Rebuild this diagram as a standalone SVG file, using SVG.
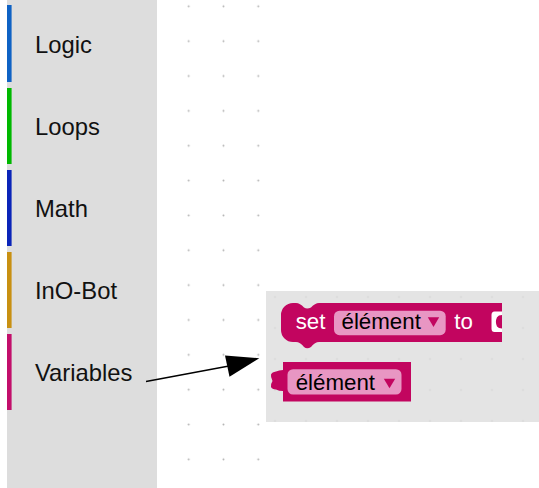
<svg xmlns="http://www.w3.org/2000/svg" width="539" height="488" viewBox="0 0 539 488">
  <style>
    .cat { font-family: "Liberation Sans", Arial, sans-serif; font-size: 23.8px; fill: #111; }
    .blk { font-family: "Liberation Sans", Arial, sans-serif; font-size: 22.3px; }
    .lbl { fill: #ffffff; }
    .fld { fill: #000000; }
    .body { fill: #c2055f; }
    .pill { fill: #e896c3; }
    .arrowhead { fill: #c2055f; }
  </style>
  <defs>
    <pattern id="wsDots" patternUnits="userSpaceOnUse" x="171.3" y="-11.1" width="34.8" height="34.85">
      <circle cx="17.4" cy="17.4" r="1" fill="#b4b4b4"/>
    </pattern>
    <pattern id="flyDots" patternUnits="userSpaceOnUse" x="259.5" y="281.5" width="31" height="31">
      <circle cx="15.5" cy="15.5" r="0.8" fill="#cfcfcf"/>
    </pattern>
  </defs>

  <!-- canvas -->
  <rect x="0" y="0" width="539" height="488" fill="#ffffff"/>

  <!-- workspace grid dots -->
  <rect x="171.3" y="-11.1" width="104.4" height="490" fill="url(#wsDots)"/>

  <!-- toolbox panel -->
  <g id="toolbox">
    <rect x="7" y="0" width="150" height="488" fill="#dddddd"/>
    <g id="cat-logic">
      <rect x="7" y="5" width="4.6" height="77" fill="#0f62c4"/>
      <text class="cat" x="35" y="53.3">Logic</text>
    </g>
    <g id="cat-loops">
      <rect x="7" y="88" width="4.6" height="76" fill="#00b800"/>
      <text class="cat" x="35" y="135.3">Loops</text>
    </g>
    <g id="cat-math">
      <rect x="7" y="170" width="4.6" height="76" fill="#0a24b8"/>
      <text class="cat" x="35" y="217.3">Math</text>
    </g>
    <g id="cat-inobot">
      <rect x="7" y="252" width="4.6" height="76" fill="#c89012"/>
      <text class="cat" x="35" y="299.3">InO-Bot</text>
    </g>
    <g id="cat-variables">
      <rect x="7" y="334" width="4.6" height="76" fill="#c20f6b"/>
      <text class="cat" x="35" y="381.3">Variables</text>
    </g>
  </g>

  <!-- flyout with variable blocks -->
  <g id="flyout">
    <rect x="266" y="291" width="273" height="131" fill="#e4e4e4"/>
    <rect x="266" y="291" width="273" height="131" fill="url(#flyDots)"/>
  </g>

  <!-- "set ... to" block -->
  <g id="block-set">
    <path class="body" d="M281,315 A12,12 0 0 1 293,303 H296 Q300,303 304,307.5 Q307,309.5 311,307.5 Q315,303 319,303 H502 V342 H319 Q315,342 311,347 Q307,349.5 304,347 Q300,342 296,342 H293 A12,12 0 0 1 281,330 Z"/>
    <!-- value input socket on the right edge -->
    <path fill="#ffffff" d="M502,311.5 H494.5 Q491.5,311.5 491.5,315 V328.5 Q491.5,332 494.5,332 H502 V328.5 Q498.5,328.5 497,326.5 Q494.8,322 497,317.3 Q498.5,315 502,315 Z"/>
    <text class="blk lbl" x="295.7" y="329.3">set</text>
    <rect class="pill" x="334" y="310.7" width="111.7" height="24.5" rx="5.5"/>
    <text class="blk fld" x="341.5" y="329.3">élément</text>
    <path class="arrowhead" d="M427.8,317.2 H439.2 L433.5,327 Z"/>
    <text class="blk lbl" x="454.3" y="329.3">to</text>
  </g>

  <!-- variable getter block -->
  <g id="block-get">
    <path class="body" d="M283,362 H411 V401.5 H283 V391 Q279,391 276,389.5 Q272,389 271,387 Q270.5,384 272.5,381 Q270.5,377 271,374.5 Q272,372 276,371.5 Q279,370 283,370 Z"/>
    <rect class="pill" x="287.5" y="369.2" width="114" height="25.3" rx="5.5"/>
    <text class="blk fld" x="295.7" y="390">élément</text>
    <path class="arrowhead" d="M383.8,378.7 H395.2 L389.5,388.3 Z"/>
  </g>

  <!-- connector: category to flyout -->
  <g id="connectors">
    <line x1="146" y1="381.5" x2="229" y2="366" stroke="#000000" stroke-width="1.3"/>
    <polygon points="259.3,358.3 225,355.5 229.5,376.8" fill="#000000"/>
  </g>
</svg>
